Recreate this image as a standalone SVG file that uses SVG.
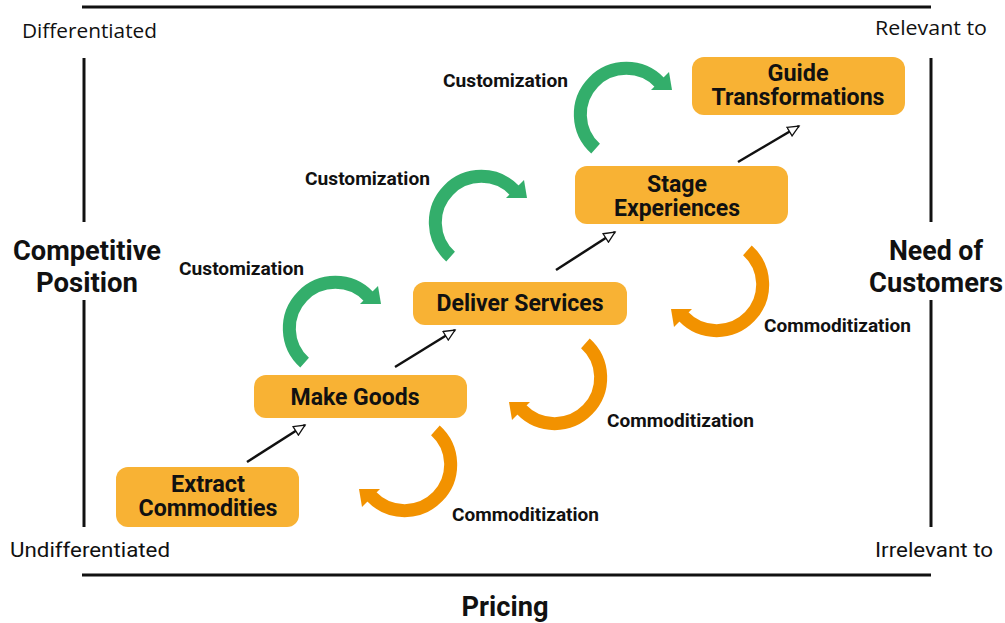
<svg xmlns="http://www.w3.org/2000/svg" width="1005" height="623" viewBox="0 0 1005 623">
<defs>
<style>
.frame{stroke:#111;stroke-width:3;fill:none}
.node rect{fill:#F8B234}
.nt{font-family:Roboto,"Liberation Sans",sans-serif;font-weight:bold;font-size:23px;fill:#111;text-anchor:middle}
.lbl{font-family:Roboto,"Liberation Sans",sans-serif;font-weight:bold;font-size:18px;fill:#111}
.axis{font-family:Roboto,"Liberation Sans",sans-serif;font-weight:bold;font-size:27px;fill:#111;text-anchor:middle}
.corner{font-family:"Open Sans","Noto Sans",sans-serif;font-size:20px;fill:#111}
.corner2{font-family:Roboto,"Liberation Sans",sans-serif;font-size:21px;fill:#111}
.link{stroke:#111;stroke-width:2.5;fill:none;marker-end:url(#head)}
.g{stroke:#33AE6B;stroke-width:13;fill:none}
.gh{fill:#33AE6B}
.o{stroke:#F29200;stroke-width:13;fill:none}
.oh{fill:#F29200}
</style>
<marker id="head" markerUnits="userSpaceOnUse" markerWidth="14" markerHeight="12" refX="11" refY="5" orient="auto" viewBox="-1 -1 14 12">
<path d="M0,0 L11,5 L0,10 Z" fill="#fff" stroke="#111" stroke-width="1.3"/>
</marker>
</defs>
<rect width="1005" height="623" fill="#fff"/>
<g id="frame">
<line class="frame" x1="82" y1="7" x2="931" y2="7"/>
<line class="frame" x1="82" y1="575" x2="931" y2="575"/>
<line class="frame" x1="84" y1="58" x2="84" y2="222"/>
<line class="frame" x1="84" y1="300" x2="84" y2="527"/>
<line class="frame" x1="931" y1="58" x2="931" y2="222"/>
<line class="frame" x1="931" y1="300" x2="931" y2="527"/>
</g>
<g id="axis-labels">
<text class="corner" x="22" y="38" textLength="135" lengthAdjust="spacingAndGlyphs">Differentiated</text>
<text class="corner" x="875" y="35" textLength="112" lengthAdjust="spacingAndGlyphs">Relevant to</text>
<text class="corner2" x="10" y="557" textLength="160" lengthAdjust="spacingAndGlyphs">Undifferentiated</text>
<text class="corner2" x="875" y="557" textLength="118" lengthAdjust="spacingAndGlyphs">Irrelevant to</text>
<text class="axis" x="87" y="260" textLength="148" lengthAdjust="spacingAndGlyphs">Competitive</text>
<text class="axis" x="87" y="292" textLength="102" lengthAdjust="spacingAndGlyphs">Position</text>
<text class="axis" x="936" y="260" textLength="94" lengthAdjust="spacingAndGlyphs">Need of</text>
<text class="axis" x="936" y="292" textLength="134" lengthAdjust="spacingAndGlyphs">Customers</text>
<text class="axis" x="505" y="616" textLength="87" lengthAdjust="spacingAndGlyphs">Pricing</text>
</g>
<g id="connectors">
<line class="link" x1="247" y1="462" x2="305" y2="425"/>
<line class="link" x1="395" y1="367" x2="455" y2="330"/>
<line class="link" x1="556" y1="270" x2="615" y2="232"/>
<line class="link" x1="738" y1="162" x2="799" y2="126"/>
<g id="customization-arcs">
<path class="g" d="M304.6,362.6 A46,46 0 1 1 368.5,296.5"/>
<polygon class="gh" points="378,286 381,304 360,304"/>
<path class="g" d="M450.6,256.6 A46,46 0 1 1 514.5,190.5"/>
<polygon class="gh" points="524,180 527,198 506,198"/>
<path class="g" d="M595.6,148.6 A46,46 0 1 1 659.5,82.5"/>
<polygon class="gh" points="669,72 672,90 651,90"/>
</g>
<g id="commoditization-arcs">
<path class="o" d="M435.4,430.4 A46,46 0 1 1 371.5,496.5"/>
<polygon class="oh" points="359,489 380,489 362,507"/>
<path class="o" d="M585.4,343.4 A46,46 0 1 1 521.5,409.5"/>
<polygon class="oh" points="509,402 530,402 512,420"/>
<path class="o" d="M747.4,250.4 A46,46 0 1 1 683.5,316.5"/>
<polygon class="oh" points="671,309 692,309 674,327"/>
</g>
<text class="lbl" x="443" y="87" textLength="125" lengthAdjust="spacingAndGlyphs">Customization</text>
<text class="lbl" x="305" y="185" textLength="125" lengthAdjust="spacingAndGlyphs">Customization</text>
<text class="lbl" x="179" y="275" textLength="125" lengthAdjust="spacingAndGlyphs">Customization</text>
<text class="lbl" x="764" y="332" textLength="147" lengthAdjust="spacingAndGlyphs">Commoditization</text>
<text class="lbl" x="607" y="427" textLength="147" lengthAdjust="spacingAndGlyphs">Commoditization</text>
<text class="lbl" x="452" y="521" textLength="147" lengthAdjust="spacingAndGlyphs">Commoditization</text>
</g>
<g id="node-extract" class="node">
<rect x="116" y="467" width="183" height="60" rx="12"/>
<text class="nt" x="208" y="492" textLength="74" lengthAdjust="spacingAndGlyphs">Extract</text>
<text class="nt" x="208" y="516" textLength="139" lengthAdjust="spacingAndGlyphs">Commodities</text>
</g>
<g id="node-goods" class="node">
<rect x="254" y="375" width="213" height="43" rx="12"/>
<text class="nt" x="355" y="405" textLength="129" lengthAdjust="spacingAndGlyphs">Make Goods</text>
</g>
<g id="node-services" class="node">
<rect x="413" y="282" width="214" height="43" rx="12"/>
<text class="nt" x="520" y="311" textLength="167" lengthAdjust="spacingAndGlyphs">Deliver Services</text>
</g>
<g id="node-experiences" class="node">
<rect x="575" y="166" width="213" height="58" rx="12"/>
<text class="nt" x="677" y="192" textLength="60" lengthAdjust="spacingAndGlyphs">Stage</text>
<text class="nt" x="677" y="216" textLength="126" lengthAdjust="spacingAndGlyphs">Experiences</text>
</g>
<g id="node-transformations" class="node">
<rect x="692" y="57" width="213" height="58" rx="12"/>
<text class="nt" x="798" y="81" textLength="61" lengthAdjust="spacingAndGlyphs">Guide</text>
<text class="nt" x="798" y="105" textLength="173" lengthAdjust="spacingAndGlyphs">Transformations</text>
</g>
</svg>
